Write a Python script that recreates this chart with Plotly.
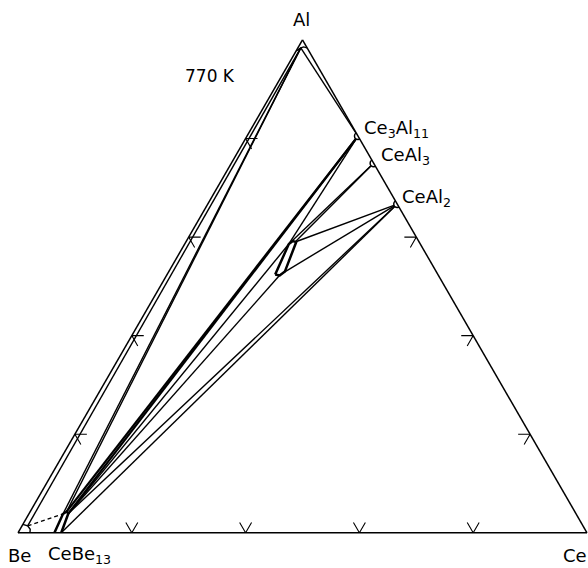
import plotly.graph_objects as go

# ---------------- data (mole fractions: Al = top, Be = bottom-left, Ce = bottom-right) -------------
# named composition points: (Al, Ce); Be = 1 - Al - Ce
point_names = ["Al_ss", "Be_ss", "CeBe13_TL", "CeBe13_T", "CeBe13_TR", "CeBe13_BR",
               "tau_TL", "tau_TR", "tau_B", "Ce3Al11", "CeAl3", "CeAl2"]
point_al = [0.984, 0.014, 0.038, 0.043, 0.039, 0.000, 0.586, 0.590, 0.524, 0.805, 0.750, 0.667]
point_ce = [0.005, 0.010, 0.060, 0.064, 0.069, 0.076, 0.183, 0.192, 0.199, 0.195, 0.250, 0.333]

# solid tie lines (pairs of named points)
tie_from = ["Al_ss", "Al_ss", "Al_ss", "Al_ss", "CeBe13_TR", "CeBe13_TR", "CeBe13_TR", "CeBe13_BR",
            "tau_TL", "tau_TL", "tau_TR", "tau_TR", "tau_B"]
tie_to = ["Be_ss", "CeBe13_TL", "CeBe13_T", "Ce3Al11", "tau_TL", "tau_B", "CeAl2", "CeAl2",
          "Ce3Al11", "CeAl3", "CeAl3", "CeAl2", "CeAl2"]
# bold tie lines CeBe13 - Ce3Al11
bold_from = ["CeBe13_T", "CeBe13_TR"]
bold_to = ["Ce3Al11", "Ce3Al11"]
# dashed (uncertain) tie line
dash_from = ["Be_ss"]
dash_to = ["CeBe13_TL"]

# phase-field outlines (Al, Ce)
cebe13_al = [0.000, 0.038, 0.043, 0.039, 0.000]
cebe13_ce = [0.064, 0.060, 0.064, 0.069, 0.076]
tau_al = [0.524, 0.586, 0.592, 0.590, 0.530, 0.522, 0.524]
tau_ce = [0.190, 0.183, 0.187, 0.194, 0.204, 0.199, 0.190]
al_arc_al = [0.978, 0.984, 0.986, 0.984]
al_arc_ce = [0.000, 0.005, 0.009, 0.016]
be_arc_al = [0.017, 0.014, 0.007, 0.000]
be_arc_ce = [0.000, 0.010, 0.018, 0.021]

# compounds marked with open circles
compound_names = ["Ce3Al11", "CeAl3", "CeAl2"]

# reading-direction tick marks on each side (Al, resp. Ce fraction)
tick_values = [0.2, 0.4, 0.6, 0.8]
right_tick_values = [0.2, 0.4, 0.6]
tick_len = 0.021

BLACK = "black"
pts = {n: (a, c) for n, a, c in zip(point_names, point_al, point_ce)}


def abc(al_list, ce_list):
    return (list(al_list), [1 - a - c for a, c in zip(al_list, ce_list)], list(ce_list))


fig = go.Figure()


def add_line(al_list, ce_list, width=1.4, dash="solid"):
    a, b, c = abc(al_list, ce_list)
    fig.add_trace(go.Scatterternary(a=a, b=b, c=c, mode="lines",
                                    line=dict(color=BLACK, width=width, dash=dash),
                                    hoverinfo="skip", showlegend=False))


for f, t in zip(tie_from, tie_to):
    add_line([pts[f][0], pts[t][0]], [pts[f][1], pts[t][1]])
for f, t in zip(bold_from, bold_to):
    add_line([pts[f][0], pts[t][0]], [pts[f][1], pts[t][1]], width=2.2)
for f, t in zip(dash_from, dash_to):
    add_line([pts[f][0], pts[t][0]], [pts[f][1], pts[t][1]], width=1.4, dash="4px,3px")

add_line(cebe13_al, cebe13_ce, width=2.5)
add_line(tau_al, tau_ce, width=2.5)
add_line(al_arc_al, al_arc_ce, width=1.4)
add_line(be_arc_al, be_arc_ce, width=1.4)

# tick arrows
L = tick_len
for t in tick_values:
    # left side (Be-Al): horizontal arm + arm parallel to Al-Ce side
    add_line([t, t, t - L], [L, 0, L], width=1.1)
    # bottom side (Be-Ce): V
    add_line([L, 0, L], [t - L, t, t], width=1.1)
for t in right_tick_values:
    # right side (Al-Ce), Al fraction t
    add_line([t, t, t - L], [1 - t - L, 1 - t, 1 - t], width=1.1)

# compound markers
ca, cb, cc = abc([pts[n][0] for n in compound_names], [pts[n][1] for n in compound_names])
fig.add_trace(go.Scatterternary(a=ca, b=cb, c=cc, mode="markers",
                                marker=dict(size=7, color="white", line=dict(color=BLACK, width=1.5)),
                                hoverinfo="skip", showlegend=False))

axis_style = dict(showgrid=False, showticklabels=False, ticks="", showline=True,
                  linecolor=BLACK, linewidth=1.5, title=dict(text=""))

W, H = 588, 568
x0_px, x1_px, base_px = 18, 587, 533
tri_h = (x1_px - x0_px) * 3 ** 0.5 / 2

fig.update_layout(
    width=W, height=H,
    margin=dict(l=0, r=0, t=0, b=0),
    paper_bgcolor="white",
    ternary=dict(
        sum=1,
        bgcolor="white",
        domain=dict(x=[x0_px / W, x1_px / W],
                    y=[(H - base_px) / H, (H - base_px + tri_h + 0.5) / H]),
        aaxis=axis_style, baxis=axis_style, caxis=axis_style,
    ),
    font=dict(family="DejaVu Sans", color=BLACK, size=18),
)


def label(text, x_px, y_px, anchor="left", size=18):
    fig.add_annotation(text=text, x=x_px / W, y=1 - y_px / H, xref="paper", yref="paper",
                       xanchor=anchor, yanchor="middle", showarrow=False,
                       font=dict(family="DejaVu Sans", size=size, color=BLACK))


label("Al", 301, 20, "center")
label("770 K", 183, 76, size=17)
label("Ce<sub>3</sub>Al<sub>11</sub>", 362, 129)
label("CeAl<sub>3</sub>", 379, 156)
label("CeAl<sub>2</sub>", 400, 198)
label("Be", 6, 555)
label("CeBe<sub>13</sub>", 46, 555)
label("Ce", 561, 555)

fig.write_html("out.html",
               config={"displayModeBar": False, "staticPlot": True},
               post_script="document.body.style.margin='0px';document.body.style.overflow='hidden';")
